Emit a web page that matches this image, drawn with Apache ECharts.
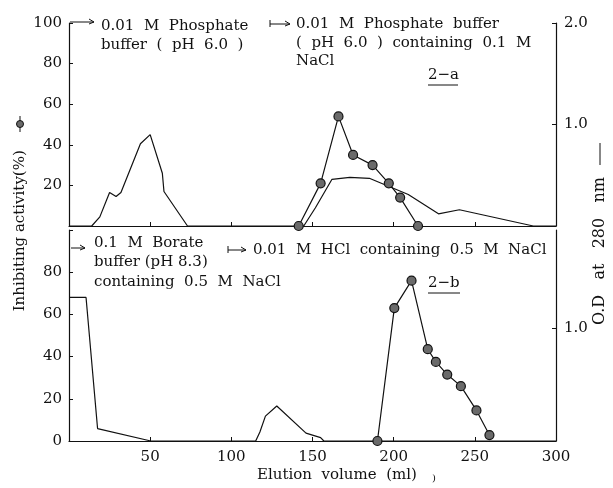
<!DOCTYPE html>
<html><head><meta charset="utf-8">
<script src="https://cdn.jsdelivr.net/npm/echarts@6/dist/echarts.min.js"></script>
<style>html,body{margin:0;padding:0;background:#fff}#c{width:613px;height:488px}</style>
</head><body><div id="c"></div>
<script>
// Elution volume (ml) / value pairs
var topOD = [[0,0],[14,0],[19,0.09],[25,0.33],[29,0.29],[32,0.33],[44,0.81],[50,0.9],[57.5,0.52],[58.5,0.34],[73,0],[144.6,0],[151.8,0.18],[162,0.46],[173,0.48],[185,0.47],[209,0.31],[227.6,0.12],[240.5,0.16],[286,0],[300,0]];
var topActivity = [[141.5,0],[155,21],[166,54],[175,35],[187,30],[197,21],[204,14],[215,0]];
var bottomOD = [[0,1.27],[10.5,1.27],[17.6,0.11],[50.4,0],[115,0],[117.6,0.08],[121,0.22],[128,0.31],[146,0.07],[155,0.03],[157,0],[300,0]];
var bottomActivity = [[190,0],[200.4,63],[211,76],[221,43.5],[226,37.5],[233,31.5],[241.4,26],[251,14.5],[259,2.8]];
var xTicks = [0,50,100,150,200,250,300];

var FONT = 'DejaVu Serif';
var axisStyle = {lineStyle:{color:'#111',width:1.2}};
var tickStyle = {inside:true,length:4,lineStyle:{color:'#111',width:1}};
var lblStyle = {color:'#111',fontFamily:FONT,fontSize:15};

var chart = echarts.init(document.getElementById('c'));
var lineCommon = {type:'line',showSymbol:false,symbol:'none',lineStyle:{color:'#111',width:1.2},animation:false,z:3};
var markCommon = {type:'line',symbol:'circle',symbolSize:9,showSymbol:true,lineStyle:{color:'#111',width:1.2},itemStyle:{color:'#6a6a6a',borderColor:'#111',borderWidth:1.2},animation:false,z:4};

function txt(x,y,t,extra){
  var s = {text:t,x:0,y:0,font:'15px "'+FONT+'"',fill:'#111',verticalAlign:'middle',lineHeight:19.5};
  if(extra){for(var k in extra) s[k]=extra[k];}
  return {type:'text',x:x,y:y,style:s,z:10};
}
function ln(x1,y1,x2,y2){return {type:'line',shape:{x1:x1,y1:y1,x2:x2,y2:y2},style:{stroke:'#111',lineWidth:1},z:10};}
function arrow(x1,x2,y,bar){
  var out=[ln(x1,y,x2,y),{type:'polyline',shape:{points:[[x2-5,y-3],[x2,y],[x2-5,y+2]]},style:{stroke:'#111',fill:null,lineWidth:1},z:10}];
  if(bar) out.push(ln(x1,y-4,x1,y+3));
  return out;
}

var graphics = [
  txt(101,16,'0.01  M  Phosphate\nbuffer  (  pH  6.0  )',{verticalAlign:'top'}),
  txt(296,15,'0.01  M  Phosphate  buffer\n(  pH  6.0  )  containing  0.1  M\nNaCl',{verticalAlign:'top',lineHeight:18.5}),
  txt(428,75,'2−a'),
  ln(428,85,458,85),
  txt(94,233,'0.1  M  Borate\nbuffer (pH 8.3)\ncontaining  0.5  M  NaCl',{verticalAlign:'top'}),
  txt(253,250,'0.01  M  HCl  containing  0.5  M  NaCl'),
  txt(428,283,'2−b'),
  ln(428,293,460,293),
  txt(337,475,'Elution  volume  (ml)',{align:'center'}),
  txt(432,478,')',{font:'10px "'+FONT+'"'}),
  {type:'text',x:20,y:226,rotation:Math.PI/2,style:{text:'Inhibiting activity(%)  ',font:'15px "'+FONT+'"',fill:'#111',align:'center',verticalAlign:'middle'},z:10},
  ln(20,116,20,132),
  {type:'circle',shape:{cx:20,cy:124,r:3.5},style:{fill:'#6a6a6a',stroke:'#111',lineWidth:1},z:11},
  {type:'text',x:600,y:251,rotation:Math.PI/2,style:{text:'O.D   at   280   nm',font:'16px "'+FONT+'"',fill:'#111',align:'center',verticalAlign:'middle'},z:10},
  ln(600,143,600,165)
].concat(arrow(70,94,22,false),arrow(270,290,24,true),arrow(71,85,248,false),arrow(228,246,250,true));

chart.setOption({
  backgroundColor:'#fff',
  animation:false,
  grid:[{left:69,right:57,top:23,height:203},{left:69,right:57,top:230,height:211}],
  xAxis:[
    {type:'value',gridIndex:0,min:xTicks[0],max:xTicks[xTicks.length-1],interval:50,axisLine:axisStyle,axisTick:tickStyle,axisLabel:{show:false},splitLine:{show:false}},
    {type:'value',gridIndex:1,min:xTicks[0],max:xTicks[xTicks.length-1],interval:50,axisLine:axisStyle,axisTick:tickStyle,
      axisLabel:Object.assign({margin:9,formatter:function(v){return v===0?'':String(v);}},lblStyle),splitLine:{show:false}}
  ],
  yAxis:[
    {type:'value',gridIndex:0,min:0,max:100,interval:20,axisLine:Object.assign({show:true},axisStyle),axisTick:Object.assign({show:true},tickStyle),
      axisLabel:Object.assign({margin:7,formatter:function(v){return v===0?'':String(v);}},lblStyle),splitLine:{show:false}},
    {type:'value',gridIndex:0,position:'right',min:0,max:2,interval:1,axisLine:Object.assign({show:true},axisStyle),axisTick:Object.assign({show:true},tickStyle),
      axisLabel:Object.assign({margin:8,formatter:function(v){return v===0?'':v.toFixed(1);}},lblStyle),splitLine:{show:false}},
    {type:'value',gridIndex:1,min:0,max:100,interval:20,axisLine:Object.assign({show:true},axisStyle),axisTick:Object.assign({show:true},tickStyle),
      axisLabel:Object.assign({margin:7,formatter:function(v){return v===100?'':String(v);}},lblStyle),splitLine:{show:false}},
    {type:'value',gridIndex:1,position:'right',min:0,max:1.867,interval:1,axisLine:Object.assign({show:true},axisStyle),axisTick:Object.assign({show:true},tickStyle),
      axisLabel:Object.assign({margin:8,showMaxLabel:false,formatter:function(v){return v===1?'1.0':'';}},lblStyle),splitLine:{show:false}}
  ],
  series:[
    Object.assign({xAxisIndex:0,yAxisIndex:1,data:topOD},lineCommon),
    Object.assign({xAxisIndex:0,yAxisIndex:0,data:topActivity},markCommon),
    Object.assign({xAxisIndex:1,yAxisIndex:3,data:bottomOD},lineCommon),
    Object.assign({xAxisIndex:1,yAxisIndex:2,data:bottomActivity},markCommon)
  ],
  graphic:graphics
});
</script></body></html>
